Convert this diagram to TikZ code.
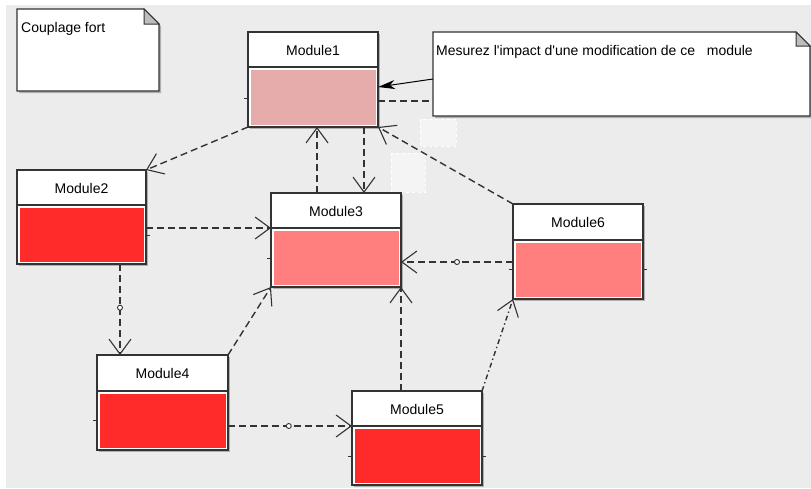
\documentclass[tikz,border=0pt]{standalone}
\usepackage{fontspec}
\setmainfont{Liberation Sans}
\usetikzlibrary{arrows.meta,calc,fit}

\definecolor{canvas}{HTML}{ECECEC}
\definecolor{ink}{HTML}{333333}
\definecolor{foldgray}{HTML}{BDBDBD}
\definecolor{shadowgray}{HTML}{B0B0B0}
\definecolor{paleRed}{HTML}{E6ABAB}
\definecolor{midRed}{HTML}{FF7F7F}
\definecolor{hotRed}{HTML}{FF2A2A}
\definecolor{ghost}{HTML}{F4F4F4}

\tikzset{
  x=1pt, y=-1pt,
  modbox/.style={draw=ink, line width=1.3pt, fill=white, inner sep=0pt, outer sep=0pt},
  modlabel/.style={font=\fontsize{14}{16}\selectfont, text=black, anchor=base, inner sep=0pt},
  notetext/.style={font=\fontsize{14}{16}\selectfont, text=black, anchor=base west, inner sep=0pt},
  notearea/.style={inner sep=0pt, outer sep=0pt, draw=none},
  dep/.style={draw=ink, line width=1.4pt, dash pattern=on 7pt off 4pt,
    -{Straight Barb[length=15pt,width=22pt,line width=1.1pt]}},
  depdot/.style={dep, dash pattern=on 5pt off 3pt on 1.4pt off 3pt},
  plaindash/.style={draw=ink, line width=1.4pt, dash pattern=on 7pt off 4pt},
  ring/.style={circle, draw=ink, fill=white, line width=0.9pt, minimum size=5pt, inner sep=0pt, solid},
  sidetick/.style={draw=ink, line width=1pt},
  ghostbox/.style={fill=ghost, draw=white, dashed, line width=0.6pt},
}

% A module: header with its name, coloured body, drop shadow
% args: name, left, top, right, divider, bottom, body colour, title
\newcommand\umlmodule[8]{%
  \fill[shadowgray] (#2+2,#3+2) rectangle (#4+2,#6+2);
  \node[modbox, fit={(#2,#3) (#4,#6)}] (#1) {};
  \fill[#7] (#2+3,#5+3) rectangle (#4-2,#6-2);
  \draw[draw=ink, line width=1.3pt] (#2,#5) -- (#4,#5);
  \node[modlabel] (#1-title) at ({(#2+#4)/2},#3+23.5) {#8};
}

\begin{document}
\begin{tikzpicture}
\useasboundingbox (0,0) rectangle (811,488);
\fill[white] (0,0) rectangle (811,488);
\fill[canvas] (6,5) rectangle (811,488);

% note "Couplage fort"
\fill[shadowgray] (19,11) -- (146,11) -- (161,26) -- (161,93) -- (19,93) -- cycle;
\draw[ink, line width=1.3pt, fill=white] (17,9) -- (144,9) -- (159,24) -- (159,91) -- (17,91) -- cycle;
\filldraw[ink, fill=foldgray, line width=1pt] (144,9) -- (144,24) -- (159,24) -- cycle;
\node[notearea, fit={(17,9) (159,91)}] (noteA) {};
\node[notetext] (noteA-text) at (21,32) {Couplage fort};

% note attached to Module1
\fill[shadowgray] (435,34) -- (798,34) -- (812,48) -- (812,118) -- (435,118) -- cycle;
\draw[ink, line width=1.3pt, fill=white] (433,32) -- (796,32) -- (810,46) -- (810,116) -- (433,116) -- cycle;
\filldraw[ink, fill=foldgray, line width=1pt] (796,32) -- (796,46) -- (810,46) -- cycle;
\node[notearea, fit={(433,32) (810,116)}] (noteB) {};
\node[notetext] (noteB-text) at (436,55) {Mesurez l\textquotesingle impact d\textquotesingle une modification de ce\ \ \ module};

% faint selection marks
\path[ghostbox] (420,119) rectangle (456,146);
\path[ghostbox] (391,153) rectangle (425,192);

% modules
\umlmodule{m1}{248}{32}{378}{67}{127}{paleRed}{Module1}
\umlmodule{m2}{17}{170}{146}{205}{264}{hotRed}{Module2}
\umlmodule{m3}{271}{193}{401}{228}{287}{midRed}{Module3}
\umlmodule{m4}{97}{355}{228}{391}{450}{hotRed}{Module4}
\umlmodule{m5}{352}{391}{482}{426}{485}{hotRed}{Module5}
\umlmodule{m6}{513}{204}{643}{240}{299}{midRed}{Module6}

% small marks on the box sides
\draw[sidetick] ($(m1.north west)+(-4,66)$) -- ($(m1.north west)+(0,66)$);
\draw[sidetick] ($(m2.north east)+(0,65)$) -- ($(m2.north east)+(4,65)$);
\draw[sidetick] ($(m3.north west)+(-4,65)$) -- ($(m3.north west)+(0,65)$);
\draw[sidetick] ($(m4.north west)+(-4,65)$) -- ($(m4.north west)+(0,65)$);
\draw[sidetick] ($(m5.north west)+(-4,65)$) -- ($(m5.north west)+(0,65)$);
\draw[sidetick] ($(m5.north east)+(0,65)$) -- ($(m5.north east)+(4,65)$);
\draw[sidetick] ($(m6.north west)+(-4,65)$) -- ($(m6.north west)+(0,65)$);
\draw[sidetick] ($(m6.north east)+(0,65)$) -- ($(m6.north east)+(4,65)$);

% dependencies
\draw[dep] (m1.south west) -- (m2.north east);
\draw[dep] ($(m3.north west)+(46,0)$) -- ($(m1.south west)+(69,0)$);
\draw[dep] ($(m1.south west)+(116,0)$) -- ($(m3.north west)+(93,0)$);
\draw[dep] (m6.north west) -- (m1.south east);
\draw[dep] ($(m2.north east)+(0,58)$) -- ($(m3.north west)+(0,35)$);
\draw[dep] ($(m2.south west)+(103,0)$) -- node[ring, pos=0.48] (r24) {} ($(m4.north west)+(23,0)$);
\draw[dep] (m4.north east) -- (m3.south west);
\draw[dep] ($(m4.north east)+(0,71)$) -- node[ring, pos=0.49] (r45) {} ($(m5.north west)+(0,35)$);
\draw[dep] ($(m5.north west)+(49,0)$) -- (m3.south east);
\draw[dep] ($(m6.north west)+(0,58)$) -- node[ring, pos=0.5] (r63) {} ($(m3.north east)+(0,69)$);
\draw[depdot] (m5.north east) -- (m6.south west);

% note links
\draw[plaindash] ($(m1.north east)+(0,69)$) -- ($(noteB.north west)+(0,69)$);
\draw[draw=black, line width=1pt, -{Stealth[length=17pt,width=9pt,inset=5pt]}]
  ($(noteB.north west)+(0,47)$) -- ($(m1.north east)+(0,55)$);
\end{tikzpicture}
\end{document}
